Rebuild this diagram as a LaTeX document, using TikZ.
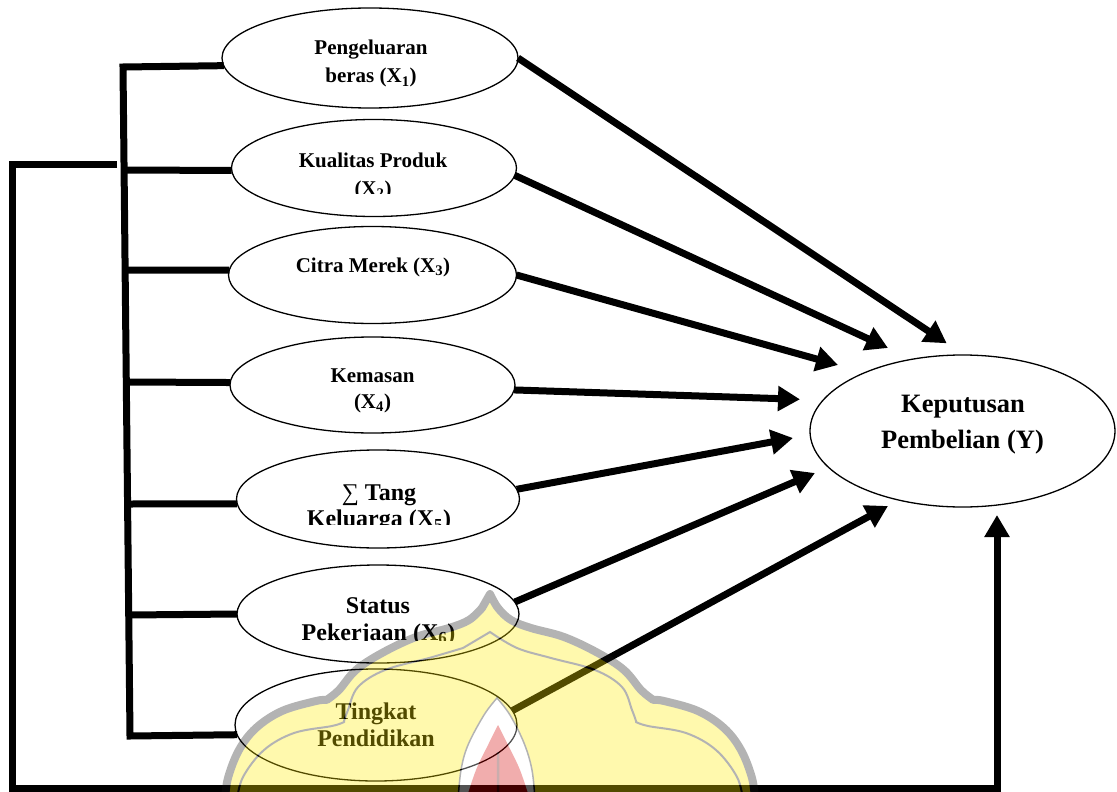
\documentclass[tikz,border=0pt]{standalone}
\usepackage{fontspec}
\setmainfont{Liberation Serif}
\usetikzlibrary{shapes.geometric,arrows.meta}
\newcommand\fsA{\fontsize{21}{25}\selectfont\bfseries}
\newcommand\fsB{\fontsize{24}{27}\selectfont\bfseries}
\newcommand\fsC{\fontsize{26.5}{32}\selectfont\bfseries}
\definecolor{wmY}{RGB}{255,235,0}
\definecolor{wmG}{RGB}{20,20,20}
\definecolor{wmR}{RGB}{210,0,0}
\definecolor{wmD}{RGB}{90,0,0}
\begin{document}
\begin{tikzpicture}[x=1pt,y=-1pt,
  ell/.style={draw, ellipse, line width=1.3pt, inner sep=0pt, outer sep=0pt},
  lblA/.style={anchor=base, inner sep=0pt, font=\fsA},
  lblB/.style={anchor=base, inner sep=0pt, font=\fsB},
  lblC/.style={anchor=base, inner sep=0pt, font=\fsC},
  bar/.style={line width=7pt},
  arr/.style={line width=7pt, -{Triangle[length=22pt,width=24pt]}},
]
\useasboundingbox (0,0) rectangle (1117,792);

% ellipses
\node[ell, minimum width=296pt, minimum height=100pt] (x1) at (370,58) {};
\node[ell, minimum width=285pt, minimum height=97pt] (x2) at (374,168) {};
\node[ell, minimum width=288pt, minimum height=97pt] (x3) at (372.5,275) {};
\node[ell, minimum width=285pt, minimum height=96pt] (x4) at (372.5,385) {};
\node[ell, minimum width=283pt, minimum height=98pt] (x5) at (378,499) {};
\node[ell, minimum width=282pt, minimum height=98pt] (x6) at (378,614) {};
\node[ell, minimum width=282pt, minimum height=112pt] (x7) at (376,725) {};
\node[ell, minimum width=305pt, minimum height=152pt] (y) at (962.5,431) {};

% labels
\node[lblA] (x1a) at (371,55) {Pengeluaran};
\node[lblA] (x1b) at (371,83) {beras (X\textsubscript{1})};
\node[lblA] (x2a) at (373,167) {Kualitas Produk};
\begin{scope}
  \clip (230,170) rectangle (520,193.3);
  \node[lblA] (x2b) at (373,195.5) {(X\textsubscript{2})};
\end{scope}
\node[lblA] (x3a) at (373,272) {Citra Merek (X\textsubscript{3})};
\node[lblA] (x4a) at (372.5,382) {Kemasan};
\node[lblA] (x4b) at (372.5,408) {(X\textsubscript{4})};
\node[lblB] (x5a) at (379,500) {{\mdseries ∑} Tang};
\begin{scope}
  \clip (230,505) rectangle (520,524.5);
  \node[lblB] (x5b) at (379,526.5) {Keluarga (X\textsubscript{5})};
\end{scope}
\node[lblB] (x6a) at (378,613) {Status};
\begin{scope}
  \clip (230,617) rectangle (520,640.3);
  \node[lblB] (x6b) at (378.5,640) {Pekerjaan (X\textsubscript{6})};
\end{scope}
\node[lblB] (x7a) at (376,719) {Tingkat};
\node[lblB] (x7b) at (376,746) {Pendidikan};
\node[lblC] (ya) at (963,412.7) {Keputusan};
\node[lblC] (yb) at (962.5,448) {Pembelian (Y)};

% bus on the left
\coordinate (btop) at (123,67);
\coordinate (bbot) at (130,736);
\coordinate (b2) at (124,170);
\coordinate (b3) at (125,270);
\coordinate (b4) at (126.3,382);
\coordinate (b5) at (127.6,504);
\coordinate (b6) at (128.7,615);
\draw[bar] (x1.183.5) -- (btop) -- (bbot) -- (x7.184.5);
\draw[bar] (b2) -- (x2.181);
\draw[bar] (b3) -- (x3.178);
\draw[bar] (b4) -- (x4.179);
\draw[bar] (b5) -- (x5.182);
\draw[bar] (b6) -- (x6.west);

% outer loop
\coordinate (l0) at (117,164.5);
\coordinate (l1) at (12.5,164.5);
\coordinate (l2) at (12.5,788);
\coordinate (l3) at (997,788);
\draw[arr, shorten >=8pt] (l0) -- (l1) -- (l2) -- (l3) -- (l3 |- y.south);

% arrows into Y
\coordinate (t1) at (946.7,343.3);
\coordinate (t2) at (888,348);
\coordinate (t3) at (838,365);
\coordinate (t4) at (800,399.3);
\coordinate (t5) at (793,438);
\coordinate (t6) at (815,473);
\coordinate (t7) at (888,506);
\draw[arr] (x1.east) -- (t1);
\draw[arr] (x2.-3) -- (t2);
\draw[arr] (x3.east) -- (t3);
\draw[arr] (x4.-2) -- (t4);
\draw[arr] (x5.4) -- (t5);
\draw[arr] (x6.5) -- (t6);
\draw[arr] (x7.6) -- (t7);

% watermark
\begin{scope}[transparency group, opacity=0.32]
  \clip (0,0) rectangle (1117,792);
  \path[fill=wmY, draw=wmG, line width=8pt, line join=round]
    plot[smooth, tension=0.6] coordinates {(755,800) (752,778) (741,750) (724,728) (698,711) (664,701) (653,700)}
    -- plot[smooth, tension=0.6] coordinates {(652,699) (641,690) (624,670) (598,653) (564,637) (531,628) (511,620) (498,608) (490,594)}
    -- plot[smooth, tension=0.6] coordinates {(482,608) (469,620) (449,628) (416,637) (382,653) (356,670) (339,690) (328,699)}
    -- plot[smooth, tension=0.6] coordinates {(327,700) (316,701) (282,711) (256,728) (239,750) (228,778) (225,800)}
    -- cycle;
  \draw[wmG, line width=2pt]
    plot[smooth, tension=0.6] coordinates {(743,800) (737,777) (716,750) (686,733) (648,726) (636,722)}
    -- plot[smooth, tension=0.6] coordinates {(636,721) (632,710) (622,687) (595,670) (551,658) (517,648) (490,632)}
    -- plot[smooth, tension=0.6] coordinates {(463,648) (429,658) (385,670) (358,687) (348,710) (344,721)}
    -- plot[smooth, tension=0.6] coordinates {(344,722) (332,726) (294,733) (264,750) (243,777) (237,800)};
  \path[fill=white, draw=wmG, line width=1.5pt]
    plot[smooth, tension=0.6] coordinates {(458,800) (461,770) (468,745) (484,715) (497,698)}
    -- plot[smooth, tension=0.6] coordinates {(497,698) (510,715) (524,743) (532,770) (535,800)}
    -- cycle;
  \fill[wmR]
    plot[smooth, tension=0.6] coordinates {(466,800) (476,770) (488,745) (498,725)}
    -- plot[smooth, tension=0.6] coordinates {(498,725) (508,745) (520,770) (530,800)}
    -- cycle;
  \draw[wmD, line width=2.5pt] (498,752) -- (498,800);
\end{scope}
\end{tikzpicture}
\end{document}
